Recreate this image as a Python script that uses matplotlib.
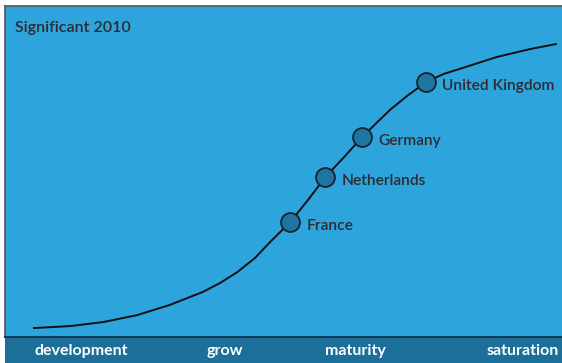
import matplotlib.pyplot as plt

# curve (x = stage 0-100, y = penetration 0-100)
curve_x = [5.2, 11.7, 17.6, 23.7, 29.6, 35.5, 38.6, 41.7, 44.9, 47.6, 51.2, 54.4,
           57.5, 60.9, 64.1, 69.1, 72.4, 75.6, 78.8, 82.2, 88.3, 94.3, 98.9]
curve_y = [2.7, 3.3, 4.5, 6.6, 9.7, 13.6, 16.3, 19.6, 23.9, 28.7, 34.7, 41.4,
           48.3, 54.4, 60.4, 68.6, 73.1, 77.0, 79.5, 81.3, 84.6, 87.0, 88.5]

countries = ["France", "Netherlands", "Germany", "United Kingdom"]
country_x = [51.2, 57.5, 64.1, 75.6]
country_y = [34.7, 48.3, 60.4, 77.0]

stages = ["development", "grow", "maturity", "saturation"]
stage_x = [13.6, 39.5, 63.0, 93.0]

title = "Significant 2010"

bg = "#2ea4dc"
band = "#1c6f99"
txt = "#2b2b30"
plt.rcParams['font.family'] = ['Lato', 'DejaVu Sans']

fig = plt.figure(figsize=(5.62, 3.63), dpi=100)
fig.patch.set_facecolor("white")

ax = fig.add_axes([5 / 562, 26 / 363, 557 / 562, 331 / 363])
ax.set_facecolor(bg)
ax.set_xlim(0, 100)
ax.set_ylim(0, 100)
ax.set_xticks([])
ax.set_yticks([])
for s in ["right", "bottom"]:
    ax.spines[s].set_visible(False)
for s in ["left", "top"]:
    ax.spines[s].set_color("#555555")
    ax.spines[s].set_linewidth(1.2)

ax.plot(curve_x, curve_y, color="#111111", lw=1.4, zorder=2)
ax.scatter(country_x, country_y, s=185, color="#1f75a2", edgecolors="#17232c",
           linewidths=1.3, zorder=3)
for name, x, y in zip(countries, country_x, country_y):
    ax.annotate(name, (x, y), xytext=(11.5, -2.8), textcoords="offset points",
                ha="left", va="center", fontsize=11.2, color=txt, fontweight="semibold")

ax.text(0.018, 0.935, title, transform=ax.transAxes, fontsize=11.5, color=txt,
        fontweight="semibold", ha="left", va="center")

bx = fig.add_axes([5 / 562, 0, 557 / 562, 26 / 363])
bx.set_facecolor(band)
bx.set_xlim(0, 100)
bx.set_ylim(0, 1)
bx.set_xticks([])
bx.set_yticks([])
for s in ["right", "bottom", "left"]:
    bx.spines[s].set_visible(False)
bx.spines["top"].set_color("#0d3d57")
bx.spines["top"].set_linewidth(1.5)
for lab, x in zip(stages, stage_x):
    bx.text(x, 0.45, lab, ha="center", va="center", color="white",
            fontsize=11.5, fontweight="bold")

fig.savefig("out.png", dpi=100, facecolor="white")
